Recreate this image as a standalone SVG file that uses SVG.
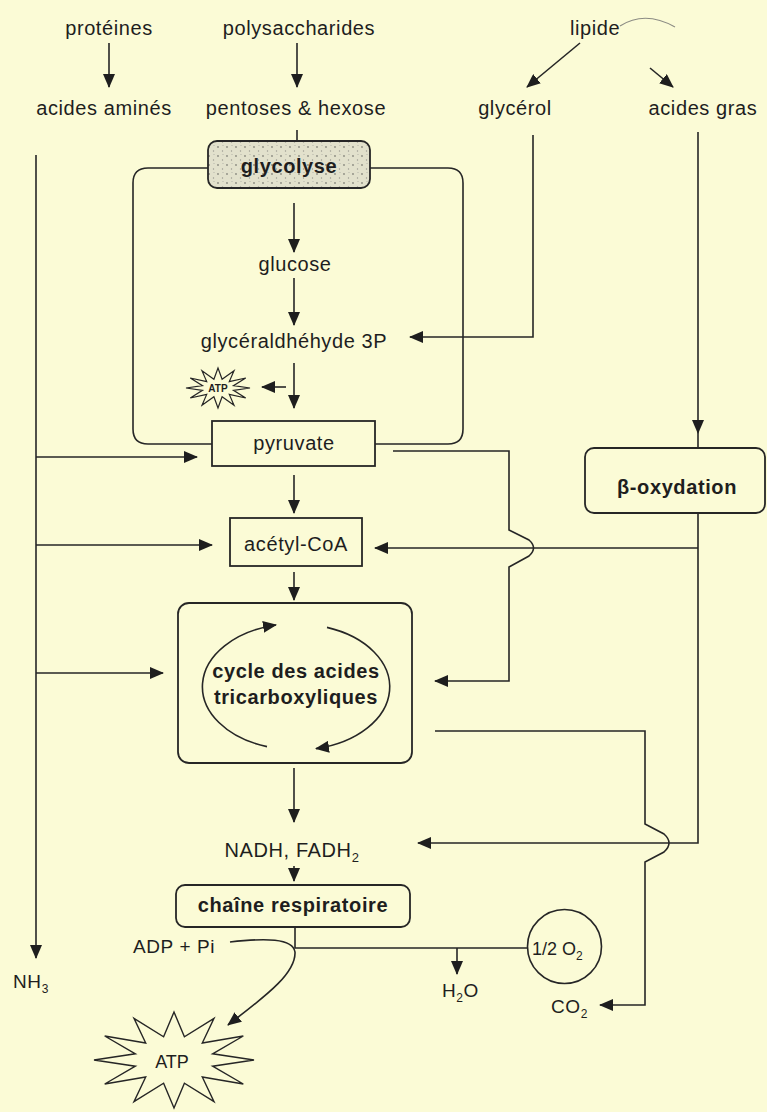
<svg xmlns="http://www.w3.org/2000/svg" width="767" height="1112" viewBox="0 0 767 1112">
<style>
.t{font-family:"Liberation Sans",Arial,sans-serif;font-size:20px;letter-spacing:0.6px;fill:#1e1e1e}
.b{font-weight:bold}
.m{text-anchor:middle}
.ln{fill:none;stroke:#262626;stroke-width:1.6}
.bx{fill:#fbfbd6;stroke:#262626;stroke-width:1.8}
</style>
<defs>
<marker id="ah" markerUnits="userSpaceOnUse" markerWidth="14" markerHeight="12" viewBox="0 0 14 12" refX="13" refY="6" orient="auto">
<path d="M0,0 L14,6 L0,12 Z" fill="#1e1e1e"/>
</marker>
<pattern id="speck" width="9" height="9" patternUnits="userSpaceOnUse">
<rect width="9" height="9" fill="#e2e1cc"/>
<circle cx="2" cy="3" r="0.9" fill="#8a8a80"/>
<circle cx="6.5" cy="7" r="0.7" fill="#9a9a90"/>
<circle cx="7" cy="1.5" r="0.6" fill="#b0b0a4"/>
</pattern>
</defs>
<rect width="767" height="1112" fill="#fbfbd6"/>

<g id="connectors">
<line class="ln" x1="109" y1="43" x2="109" y2="87" marker-end="url(#ah)"/>
<line class="ln" x1="297" y1="43" x2="297" y2="87" marker-end="url(#ah)"/>
<line class="ln" x1="580" y1="43" x2="527" y2="87" marker-end="url(#ah)"/>
<line class="ln" x1="650" y1="68" x2="673" y2="87" marker-end="url(#ah)"/>
<path d="M620,26 Q645,10 675,27" fill="none" stroke="#8c8c84" stroke-width="1.2"/>
<line class="ln" x1="297" y1="130" x2="297" y2="141"/>
<!-- glycolysis frame -->
<path class="ln" d="M208,168 H148 Q133,168 133,183 V429 Q133,444 148,444 H212 M375,444 H448 Q463,444 463,429 V183 Q463,168 448,168 H370"/>
<line class="ln" x1="294" y1="203" x2="294" y2="252" marker-end="url(#ah)"/>
<line class="ln" x1="294" y1="278" x2="294" y2="325" marker-end="url(#ah)"/>
<line class="ln" x1="294" y1="363" x2="294" y2="408" marker-end="url(#ah)"/>
<line class="ln" x1="286" y1="387" x2="262" y2="387" marker-end="url(#ah)"/>
<path class="ln" d="M533,135 V337 H410" marker-end="url(#ah)"/>
<!-- acides gras / beta-oxydation -->
<line class="ln" x1="698" y1="132" x2="698" y2="433" marker-end="url(#ah)"/>
<line class="ln" x1="698" y1="433" x2="698" y2="448"/>
<path class="ln" d="M698,513 V843 H418" marker-end="url(#ah)"/>
<path class="ln" d="M698,548 H375" marker-end="url(#ah)"/>
<!-- left amino acid line -->
<line class="ln" x1="36" y1="155" x2="36" y2="958" marker-end="url(#ah)"/>
<path class="ln" d="M36,457 H197" marker-end="url(#ah)"/>
<path class="ln" d="M36,545 H212" marker-end="url(#ah)"/>
<path class="ln" d="M36,673 H163" marker-end="url(#ah)"/>
<!-- pyruvate to TCA with jump -->
<path class="ln" d="M393,451 H509 V530 L529,540 Q538,548 529,556 L509,567 V681 H435" marker-end="url(#ah)"/>
<!-- TCA to CO2 with jump -->
<path class="ln" d="M435,731 H645 V824 L664,834 Q674,843 664,852 L645,862 V1005 H600" marker-end="url(#ah)"/>
<!-- main vertical chain -->
<line class="ln" x1="294" y1="475" x2="294" y2="513" marker-end="url(#ah)"/>
<line class="ln" x1="294" y1="572" x2="294" y2="600" marker-end="url(#ah)"/>
<line class="ln" x1="294" y1="768" x2="294" y2="822" marker-end="url(#ah)"/>
<line class="ln" x1="294" y1="866" x2="294" y2="881" marker-end="url(#ah)"/>
<!-- respiratory chain outputs -->
<path class="ln" d="M295,927 V948 H527"/>
<line class="ln" x1="457" y1="948" x2="457" y2="974" marker-end="url(#ah)"/>
<path class="ln" d="M230,942 C265,938 293,938 295,952 C296,975 260,1000 228,1025" marker-end="url(#ah)"/>
</g>

<g id="proteines"><text class="t m" x="109" y="35">protéines</text></g>
<g id="polysaccharides"><text class="t m" x="299" y="35">polysaccharides</text></g>
<g id="lipide"><text class="t" x="570" y="35">lipide</text></g>
<g id="acides-amines"><text class="t m" x="104" y="115">acides aminés</text></g>
<g id="pentoses"><text class="t m" x="296" y="115">pentoses &amp; hexose</text></g>
<g id="glycerol"><text class="t m" x="515" y="115">glycérol</text></g>
<g id="acides-gras"><text class="t m" x="703" y="115">acides gras</text></g>

<g id="glycolyse">
<rect x="208" y="141" width="162" height="47" rx="9" fill="url(#speck)" stroke="#262626" stroke-width="1.8"/>
<text class="t b m" x="289" y="173">glycolyse</text>
</g>
<g id="glucose"><text class="t m" x="295" y="271">glucose</text></g>
<g id="g3p"><text class="t m" x="294" y="348">glycéraldhéhyde 3P</text></g>
<g id="atp-small">
<polygon points="250,388 233.5,390.3 245.7,398 229.3,394.4 234,405.3 222.1,396.7 218,408 213.9,396.7 202,405.3 206.7,394.4 190.3,398 202.5,390.3 186,388 202.5,385.7 190.3,378 206.7,381.6 202,370.7 213.9,379.3 218,368 222.1,379.3 234,370.7 229.3,381.6 245.7,378 233.5,385.7" fill="#fbfbd6" stroke="#262626" stroke-width="1.2"/>
<text x="218" y="391.5" text-anchor="middle" font-family="Liberation Sans, Arial, sans-serif" font-size="10" font-weight="bold" fill="#1e1e1e">ATP</text>
</g>
<g id="pyruvate">
<rect class="bx" x="212" y="421" width="163" height="45"/>
<text class="t m" x="294" y="450">pyruvate</text>
</g>
<g id="beta-oxydation">
<rect class="bx" x="585" y="448" width="180" height="65" rx="9"/>
<text class="t b m" x="677" y="494">β-oxydation</text>
</g>
<g id="acetyl-coa">
<rect class="bx" x="230" y="518" width="132" height="48"/>
<text class="t m" x="296" y="551">acétyl-CoA</text>
</g>
<g id="tca">
<rect class="bx" x="178" y="603" width="234" height="160" rx="11"/>
<path class="ln" d="M267,746.6 A93,63 0 0 1 276,625" marker-end="url(#ah)"/>
<path class="ln" d="M327,627.4 A93,63 0 0 1 316,748.6" marker-end="url(#ah)"/>
<text class="t b m" x="296" y="678">cycle des acides</text>
<text class="t b m" x="296" y="704">tricarboxyliques</text>
</g>
<g id="nadh"><text class="t m" x="292" y="857">NADH, FADH<tspan font-size="13" dy="5">2</tspan></text></g>
<g id="chaine">
<rect class="bx" x="176" y="885" width="234" height="42" rx="9"/>
<text class="t b m" x="293" y="912">chaîne respiratoire</text>
</g>
<g id="adp"><text class="t" x="133" y="953" style="font-size:19px">ADP + Pi</text></g>
<g id="nh3"><text class="t" x="13" y="988" style="font-size:19px">NH<tspan font-size="12" dy="5">3</tspan></text></g>
<g id="h2o"><text class="t" x="442" y="997" style="font-size:19px">H<tspan font-size="12" dy="5">2</tspan><tspan dy="-5">O</tspan></text></g>
<g id="o2">
<circle cx="564.5" cy="946.5" r="37" fill="#fbfbd6" stroke="#262626" stroke-width="1.6"/>
<text class="t" x="532" y="955" style="font-size:18px;letter-spacing:0">1/2 O<tspan font-size="12" dy="5">2</tspan></text>
</g>
<g id="co2"><text class="t" x="551" y="1013" style="font-size:19px">CO<tspan font-size="12" dy="5">2</tspan></text></g>
<g id="atp-big">
<polygon points="254,1060 212.6,1066.2 243.3,1084 202.3,1077 214,1101.6 184.4,1083.2 174,1108 163.6,1083.2 134,1101.6 145.7,1077 104.7,1084 135.4,1066.2 94,1060 135.4,1053.8 104.7,1036 145.7,1043 134,1018.4 163.6,1036.8 174,1012 184.4,1036.8 214,1018.4 202.3,1043 243.3,1036 212.6,1053.8" fill="#fbfbd6" stroke="#262626" stroke-width="1.4"/>
<text x="172" y="1068" text-anchor="middle" font-family="Liberation Sans, Arial, sans-serif" font-size="18" fill="#1e1e1e">ATP</text>
</g>
</svg>
